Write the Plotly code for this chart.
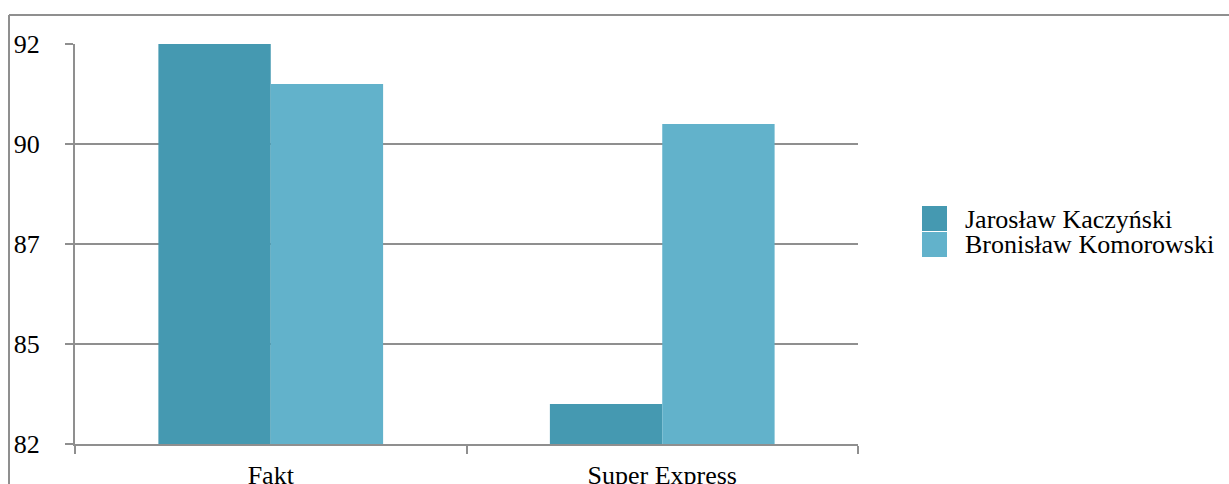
import plotly.graph_objects as go

# Poll data
categories = ["Fakt", "Super Express"]
series_names = ["Jarosław Kaczyński", "Bronisław Komorowski"]
kaczynski = [92, 83]
komorowski = [91, 90]
series_colors = ["#4599B1", "#62B2CB"]

y_tick_vals = [82, 84.5, 87, 89.5, 92]
y_tick_text = ["82", "85", "87", "90", "92"]

W, H = 1229, 484
ML, MR, MT, MB = 75, 371, 44, 40
PW, PH = W - ML - MR, H - MT - MB

FONT = "Liberation Serif, Times New Roman, Times, serif"
GRID = "#8f8f8f"


def px_x(x):
    return (x - ML) / PW


def px_y(y):
    return (H - MB - y) / PH


fig = go.Figure()
for name, vals, col in zip(series_names, [kaczynski, komorowski], series_colors):
    fig.add_trace(go.Bar(x=categories, y=vals, name=name, marker_color=col,
                         marker_line_width=0, showlegend=False))

shapes = [
    # outer chart frame (top and left edges)
    dict(type="line", xref="paper", yref="paper", x0=px_x(9), x1=px_x(W + 5),
         y0=px_y(15), y1=px_y(15), line=dict(color=GRID, width=2)),
    dict(type="line", xref="paper", yref="paper", x0=px_x(9), x1=px_x(9),
         y0=px_y(15), y1=px_y(H + 5), line=dict(color=GRID, width=2)),
]
annotations = []

# legend: swatches and names
sw_x0, sw_x1 = 922, 947
row_tops = [206, 232]
for i, (name, col) in enumerate(zip(series_names, series_colors)):
    top = row_tops[i]
    shapes.append(dict(type="rect", xref="paper", yref="paper",
                       x0=px_x(sw_x0), x1=px_x(sw_x1),
                       y0=px_y(top + 25), y1=px_y(top),
                       fillcolor=col, line=dict(width=0)))
    annotations.append(dict(xref="paper", yref="paper", x=px_x(963), y=px_y(top + 13),
                            text=name, showarrow=False, xanchor="left", yanchor="middle",
                            font=dict(family=FONT, size=26, color="#000000")))

fig.update_layout(
    width=W, height=H,
    margin=dict(l=ML, r=MR, t=MT, b=MB, autoexpand=False),
    paper_bgcolor="white", plot_bgcolor="white",
    barmode="group", bargap=0.426, bargroupgap=0,
    font=dict(family=FONT, size=26, color="#000000"),
    shapes=shapes, annotations=annotations,
    xaxis=dict(showline=True, linecolor=GRID, linewidth=2, showgrid=False,
               automargin=False,
               ticks="outside", tickson="boundaries", ticklen=8, tickwidth=2,
               tickcolor=GRID, ticklabelstandoff=7,
               tickfont=dict(family=FONT, size=26, color="#000000")),
    yaxis=dict(range=[82, 92], tickvals=y_tick_vals, ticktext=y_tick_text,
               automargin=False,
               showline=True, linecolor=GRID, linewidth=2,
               showgrid=True, gridcolor=GRID, gridwidth=2, zeroline=False,
               ticks="outside", ticklen=8, tickwidth=2, tickcolor=GRID,
               ticklabelstandoff=20,
               tickfont=dict(family=FONT, size=26, color="#000000")),
)

fig.write_html("out.html")
